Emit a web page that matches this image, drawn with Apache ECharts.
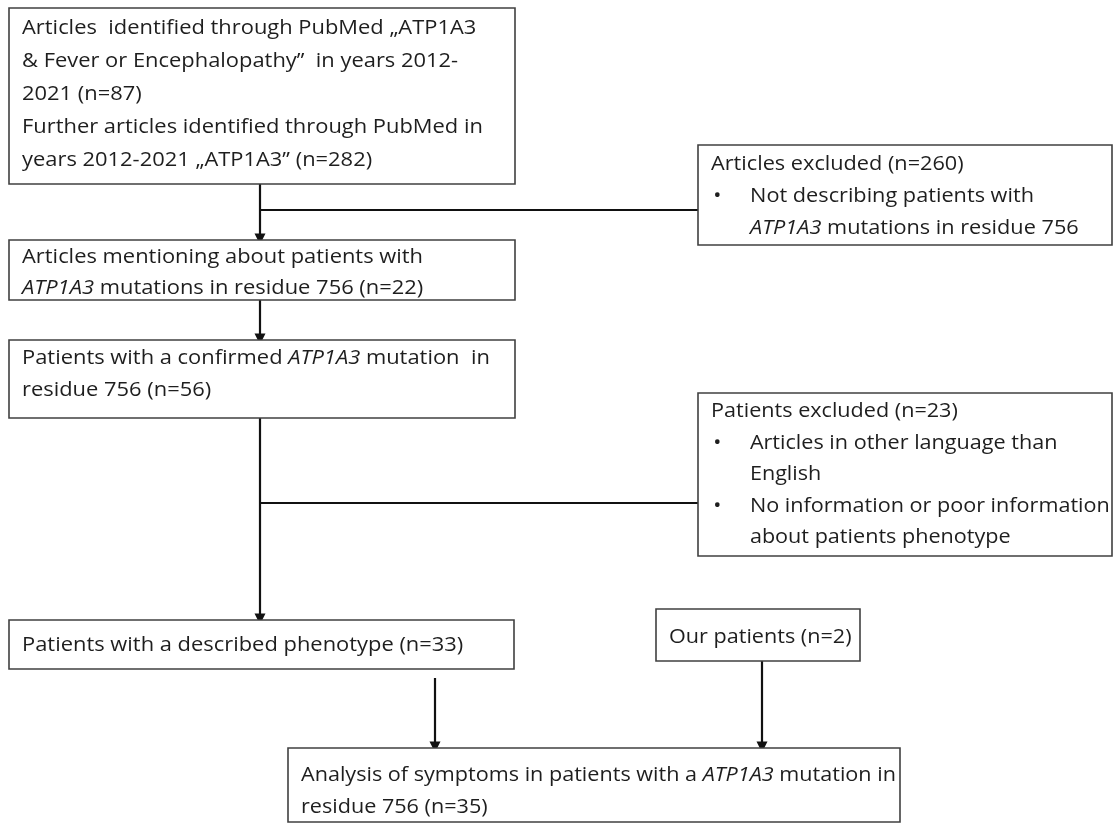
<!DOCTYPE html>
<html><head><meta charset="utf-8">
<script src="https://cdn.jsdelivr.net/npm/echarts@6/dist/echarts.min.js"></script>
<style>html,body{margin:0;padding:0;background:#fff}#c{width:1117px;height:828px}</style>
</head><body><div id="c"></div>
<script>
// Box texts ({n|..} normal, {i|..} italic, {b|..} bullet column)
const boxTexts = [
  '{n|Articles  identified through PubMed „ATP1A3}\n{n|& Fever or Encephalopathy”  in years 2012-}\n{n|2021 (n=87)}\n{n|Further articles identified through PubMed in}\n{n|years 2012-2021 „ATP1A3” (n=282)}',
  '{n|Articles excluded (n=260)}\n{b|•}{n|Not describing patients with}\n{b| }{i|ATP1A3}{n| mutations in residue 756}',
  '{n|Articles mentioning about patients with}\n{i|ATP1A3}{n| mutations in residue 756 (n=22)}',
  '{n|Patients with a confirmed }{i|ATP1A3}{n| mutation  in}\n{n|residue 756 (n=56)}',
  '{n|Patients excluded (n=23)}\n{b|•}{n|Articles in other language than}\n{b| }{n|English}\n{b|•}{n|No information or poor information}\n{b| }{n|about patients phenotype}',
  '{n|Patients with a described phenotype (n=33)}',
  '{n|Our patients (n=2)}',
  '{n|Analysis of symptoms in patients with a }{i|ATP1A3}{n| mutation in}\n{n|residue 756 (n=35)}'
];
// Box layout in canvas units: [left, top, right, bottom, textTop]
const boxLayout = [
  [9, 8, 515, 184, 12],
  [698, 145, 1112, 245, 148],
  [9, 240, 515, 300, 242],
  [9, 340, 515, 418, 342],
  [698, 393, 1112, 556, 396],
  [9, 620, 514, 669, 629],
  [656, 609, 860, 661, 621],
  [288, 748, 900, 822, 759]
];
const lineHeights = [33, 32, 31, 32, 31.5, 32, 32, 32];
const textStretch = [1.095, 1.085, 1.095, 1.095, 1.08, 1.095, 1.08, 1.08];
// Connectors
const arrowLinks = [
  [[260, 184], [260, 239]],
  [[260, 300], [260, 339]],
  [[260, 418], [260, 619]],
  [[435, 678], [435, 747]],
  [[762, 661], [762, 747]]
];
const plainLinks = [
  [[260, 210], [698, 210]],
  [[260, 503], [698, 503]]
];

const FONT = '"Open Sans"';
const FS = 20;
const TXT = '#1e1e1e';
const rich = {
  n: {fontFamily: FONT, fontSize: FS, fill: TXT},
  i: {fontFamily: FONT, fontSize: FS, fontStyle: 'italic', fill: TXT},
  b: {fontFamily: FONT, fontSize: FS, fill: TXT, width: 34, padding: [0, 0, 0, 2]}
};

const chart = echarts.init(document.getElementById('c'), null, {renderer: 'canvas'});
chart.setOption({
  backgroundColor: '#fff',
  animation: false,
  grid: {left: 0, right: 0, top: 0, bottom: 0},
  xAxis: {type: 'value', min: 0, max: 1117, show: false},
  yAxis: {type: 'value', min: 0, max: 828, inverse: true, show: false},
  series: [
    {
      type: 'custom',
      coordinateSystem: 'cartesian2d',
      data: boxLayout.map((b, i) => [b[0], b[1], b[2], b[3], b[4], i]),
      encode: {x: [0, 2], y: [1, 3]},
      renderItem: function (params, api) {
        const x0 = api.value(0), y0 = api.value(1), x1 = api.value(2), y1 = api.value(3), ty = api.value(4);
        const idx = api.value(5);
        const p0 = api.coord([x0, y0]);
        const p1 = api.coord([x1, y1]);
        const pt = api.coord([x0, ty]);
        return {
          type: 'group',
          children: [
            {type: 'rect', shape: {x: p0[0], y: p0[1], width: p1[0] - p0[0], height: p1[1] - p0[1]},
             style: {fill: '#fff', stroke: '#404040', lineWidth: 1.6}},
            {type: 'text', x: p0[0] + 13, y: pt[1], scaleX: textStretch[idx], scaleY: 1,
             style: {text: boxTexts[idx], rich: rich, fontFamily: FONT, fontSize: FS, fill: TXT,
                     lineHeight: lineHeights[idx], verticalAlign: 'top', align: 'left'}}
          ]
        };
      },
      z: 3
    },
    {
      type: 'lines',
      coordinateSystem: 'cartesian2d',
      symbol: ['none', 'triangle'],
      symbolSize: [11, 11],
      lineStyle: {color: '#111', width: 2.2, opacity: 1},
      data: arrowLinks.map(c => ({coords: c})),
      z: 2
    },
    {
      type: 'lines',
      coordinateSystem: 'cartesian2d',
      symbol: ['none', 'none'],
      lineStyle: {color: '#111', width: 2.2, opacity: 1},
      data: plainLinks.map(c => ({coords: c})),
      z: 2
    }
  ]
});
</script>
</body></html>
